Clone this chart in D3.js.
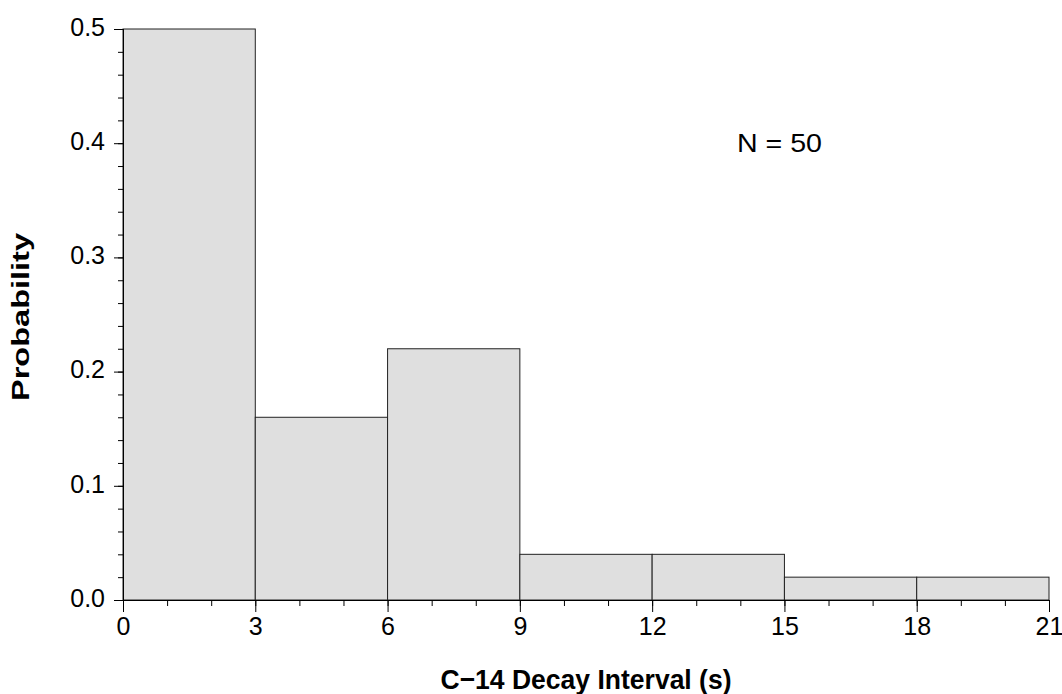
<!DOCTYPE html>
<html>
<head>
<meta charset="utf-8">
<script src="https://cdn.jsdelivr.net/npm/d3@7"></script>
<style>
  body { margin: 0; background: #fff; }
  svg { font-family: "Liberation Sans", Arial, sans-serif; }
</style>
</head>
<body>
<script>
// histogram bins (seconds) and probabilities
var binStarts = [0, 3, 6, 9, 12, 15, 18];
var binWidth = 3;
var probs = [0.50, 0.16, 0.22, 0.04, 0.04, 0.02, 0.02];
var xTicks = [0, 3, 6, 9, 12, 15, 18, 21];
var yTicks = [0.0, 0.1, 0.2, 0.3, 0.4, 0.5];
var note = "N = 50";

var width = 1062, height = 694;
var margin = {left: 123, right: 13, top: 29, bottom: 94};

var svg = d3.select("body").append("svg")
    .attr("width", width)
    .attr("height", height);

var x = d3.scaleLinear().domain([0, 21]).range([margin.left, width - margin.right]);
var y = d3.scaleLinear().domain([0, 0.5]).range([height - margin.bottom, margin.top]);

// bars
svg.selectAll(".bar")
    .data(probs)
    .enter().append("rect")
        .attr("class", "bar")
        .attr("x", function(d, i) { return x(binStarts[i]); })
        .attr("y", function(d) { return y(d); })
        .attr("width", function(d, i) { return x(binStarts[i] + binWidth) - x(binStarts[i]); })
        .attr("height", function(d) { return y(0) - y(d); })
        .style("fill", "#dfdfdf")
        .style("stroke", "#222")
        .style("stroke-width", 1);

// x axis: minor ticks every 1 s, majors every 3 s
var xAxis = svg.append("g")
    .attr("transform", "translate(0," + y(0) + ")");
xAxis.call(d3.axisBottom(x).tickValues(d3.range(0, 22, 1)).tickSize(6).tickFormat(""))
    .call(function(g) { g.select(".domain").remove(); });
xAxis.append("g")
    .call(d3.axisBottom(x).tickValues(xTicks).tickSize(12).tickPadding(5))
    .call(function(g) {
        g.select(".domain").attr("d", "M" + (margin.left - 9) + ",0.5H" + x(21));
        g.selectAll("text").style("font-size", "25px").attr("fill", "#000");
    });

// y axis: minor ticks every 0.02
var yAxis = svg.append("g")
    .attr("transform", "translate(" + x(0) + ",0)");
yAxis.call(d3.axisLeft(y).tickValues(d3.range(0, 0.501, 0.02)).tickSize(5).tickFormat(""))
    .call(function(g) { g.select(".domain").remove(); });
yAxis.append("g")
    .call(d3.axisLeft(y).tickValues(yTicks).tickSize(9).tickPadding(9).tickFormat(d3.format(".1f")))
    .call(function(g) {
        g.select(".domain").attr("d", "M0.5," + y(0) + "V" + y(0.5));
        g.selectAll("text").style("font-size", "25px").attr("dy", "0.25em").attr("fill", "#000");
    });

svg.selectAll(".tick line").attr("stroke", "#000");

// axis titles
svg.append("text")
    .attr("x", 586)
    .attr("y", 689)
    .attr("text-anchor", "middle")
    .attr("textLength", 291)
    .attr("lengthAdjust", "spacingAndGlyphs")
    .style("font-size", "28px")
    .style("font-weight", "bold")
    .text("C\u221214 Decay Interval (s)");

svg.append("text")
    .attr("transform", "translate(29,317) rotate(-90)")
    .attr("text-anchor", "middle")
    .attr("textLength", 168)
    .attr("lengthAdjust", "spacingAndGlyphs")
    .style("font-size", "24px")
    .style("font-weight", "bold")
    .text("Probability");

svg.append("text")
    .attr("x", 737)
    .attr("y", 152)
    .attr("textLength", 85)
    .attr("lengthAdjust", "spacingAndGlyphs")
    .style("font-size", "26px")
    .text(note);
</script>
</body>
</html>
